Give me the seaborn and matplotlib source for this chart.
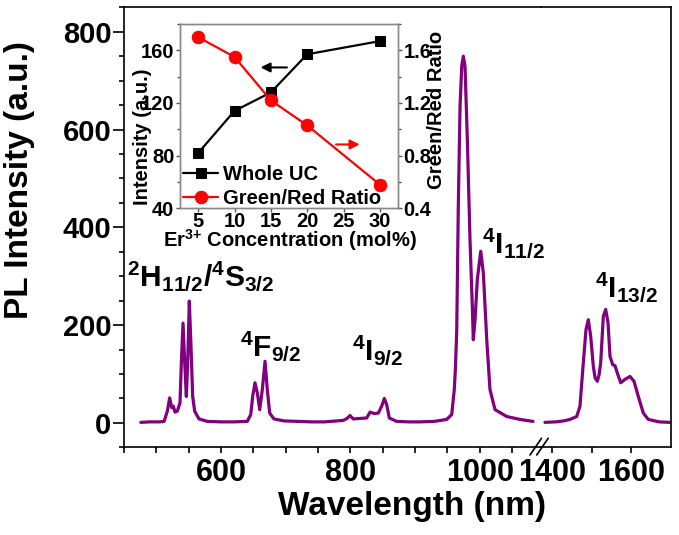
import numpy as np
import pandas as pd
import matplotlib
matplotlib.use('Agg')
import matplotlib.pyplot as plt
import seaborn as sns
from matplotlib.lines import Line2D
from matplotlib.ticker import MultipleLocator, FixedLocator

sns.set_theme(style='ticks')
plt.rcParams['font.family'] = ['Liberation Sans', 'DejaVu Sans']
plt.rcParams['font.weight'] = 'bold'
plt.rcParams['mathtext.fontset'] = 'custom'
plt.rcParams['mathtext.rm'] = 'Liberation Sans:bold'
plt.rcParams['mathtext.it'] = 'Liberation Sans:bold'
plt.rcParams['mathtext.bf'] = 'Liberation Sans:bold'
plt.rcParams['mathtext.sf'] = 'Liberation Sans:bold'
for k in ['text.color', 'axes.labelcolor', 'xtick.color', 'ytick.color', 'axes.edgecolor']:
    plt.rcParams[k] = 'black'

# PL spectrum, visible / 980 part (nm, a.u.)
wl_vis = [476, 490, 505, 512, 517, 520.6, 523.8, 526.3, 528.9, 532.5, 536.6, 538.7, 541.3,
          543.9, 546.4, 548.5, 551, 553.6, 556.2, 559.3, 566, 578.8, 600, 620, 640.7, 646,
          649, 652.6, 656.2, 659.9, 663.9, 668.1, 671.6, 675.3, 682, 697.5, 718, 740, 760,
          789, 795, 799.5, 804.6, 815, 825.4, 830.5, 837, 843.3, 848.5, 852.6, 856.3, 860.3,
          871.7, 890, 907.8, 930, 949, 956.8, 960.8, 962.5, 964.6, 967, 969.7, 972.3, 974.8,
          977.4, 981, 985.1, 988.7, 990.2, 992.9, 996.4, 1001.7, 1005.7, 1011, 1016, 1023.8,
          1041.9, 1062.4, 1082.6]
pl_vis = [1, 2, 2, 3, 24, 51, 31, 34, 22, 24, 41, 123, 204,
          123, 54, 123, 249, 157, 54, 24, 8, 3, 2, 2, 3, 17,
          54, 82, 61, 27, 68, 126, 68, 20, 8, 4, 3, 2, 2,
          5, 9, 15, 8, 9, 10, 22, 19, 20, 34, 50, 37, 10,
          3, 2, 2, 3, 7, 17, 68, 110, 190, 443, 647, 729, 750,
          729, 579, 374, 238, 170, 211, 293, 351, 307, 170, 68, 27,
          13, 7, 3]

# PL spectrum, 1.5 um part
wl_nir = [1383, 1410, 1430, 1446, 1462.8, 1471, 1479.4, 1486.2, 1492, 1498, 1504.5, 1509,
          1514.6, 1519, 1523.1, 1529.7, 1535.7, 1541.5, 1546.5, 1553.3, 1559, 1564.8,
          1573.4, 1584.2, 1596.7, 1606.8, 1617.6, 1630.2, 1642.7, 1670, 1697]
pl_nir = [1, 2, 4, 7, 13, 34, 123, 191, 211, 177, 116, 92,
          85, 98, 123, 218, 232, 205, 136, 119, 117, 102,
          82, 89, 95, 85, 54, 20, 7, 2, 1]

# inset
er_conc = [5, 10, 15, 20, 30]
whole_uc = [82, 114, 128, 157, 167]
green_red = [1.70, 1.55, 1.22, 1.03, 0.58]

W, H = 679, 535


def px_box(l, t, r, b):
    return [l / W, 1 - b / H, (r - l) / W, (b - t) / H]


purple = '#800080'
fig = plt.figure(figsize=(W / 100, H / 100), dpi=100)
ax1 = fig.add_axes(px_box(124, 7.3, 541, 447.3))
ax2 = fig.add_axes(px_box(541, 7.3, 670.7, 447.3))
ax2.patch.set_visible(False)

sns.lineplot(x=wl_vis, y=pl_vis, ax=ax1, color=purple, linewidth=2.3, estimator=None, sort=False)
sns.lineplot(x=wl_nir, y=pl_nir, ax=ax2, color=purple, linewidth=2.3, estimator=None, sort=False)

ax1.set_xlim(450, 1094.9)
ax2.set_xlim(1373.1, 1699)
for ax in (ax1, ax2):
    ax.set_ylim(-50, 850)
    for sp in ax.spines.values():
        sp.set_linewidth(1.2)
        sp.set_color('black')
ax1.spines['right'].set_visible(False)
ax2.spines['left'].set_visible(False)

ax1.yaxis.set_major_locator(MultipleLocator(200))
ax1.yaxis.set_minor_locator(MultipleLocator(50))
ax1.xaxis.set_major_locator(FixedLocator([600, 800, 1000]))
ax1.xaxis.set_minor_locator(MultipleLocator(50))
ax2.xaxis.set_major_locator(FixedLocator([1400, 1600]))
ax2.xaxis.set_minor_locator(MultipleLocator(100))
ax2.tick_params(axis='y', which='both', left=False, labelleft=False)
for ax in (ax1, ax2):
    ax.tick_params(axis='x', which='both', direction='out', length=4, width=1.2,
                   labelsize=22, pad=4)
ax1.tick_params(axis='y', which='major', direction='out', length=8, width=1.2, labelsize=21, pad=1)
ax1.tick_params(axis='y', which='minor', direction='out', length=3.5, width=1.2)

ax1.set_ylabel('PL Intensity (a.u.)', fontsize=24, fontweight='bold')
ax1.yaxis.set_label_coords(-0.213, 0.6075)
ax1.set_xlabel('Wavelength (nm)', fontsize=24, fontweight='bold')
ax1.xaxis.set_label_coords(0.69, -0.099)

# axis break marks
for x0 in (530, 536.7):
    fig.add_artist(Line2D([x0 / W, (x0 + 11.5) / W], [1 - 455 / H, 1 - 438.3 / H],
                          transform=fig.transFigure, color='black', lw=1.2))

# transition labels
ax1.text(454, 279, r'$^{2}\mathrm{H}_{11/2}/^{4}\mathrm{S}_{3/2}$', fontsize=21.5, va='baseline')
ax1.text(629, 136, r'$^{4}\mathrm{F}_{9/2}$', fontsize=21.5, va='baseline')
ax1.text(802, 129, r'$^{4}\mathrm{I}_{9/2}$', fontsize=21.5, va='baseline')
ax1.text(1003, 348, r'$^{4}\mathrm{I}_{11/2}$', fontsize=21.5, va='baseline', zorder=10)
ax2.text(1509, 258, r'$^{4}\mathrm{I}_{13/2}$', fontsize=21.5, va='baseline')

# inset
axin = fig.add_axes(px_box(180, 24, 398, 208.3))
axin2 = axin.twinx()
sns.lineplot(x=er_conc, y=whole_uc, ax=axin, color='black', marker='s', markersize=7,
             markeredgecolor='black', linewidth=1.6, estimator=None)
sns.lineplot(x=er_conc, y=green_red, ax=axin2, color='red', marker='o', markersize=9,
             markeredgecolor='red', linewidth=1.6, estimator=None)
axin.set_xlim(2.5, 32.5)
axin.set_ylim(40, 180)
axin2.set_ylim(0.4, 1.8)
axin.xaxis.set_major_locator(MultipleLocator(5))
axin.yaxis.set_major_locator(MultipleLocator(40))
axin.yaxis.set_minor_locator(MultipleLocator(20))
axin2.yaxis.set_major_locator(MultipleLocator(0.4))
axin2.yaxis.set_minor_locator(MultipleLocator(0.2))
for ax in (axin, axin2):
    for sp in ax.spines.values():
        sp.set_color('#888888')
        sp.set_linewidth(1.0)
    ax.tick_params(which='major', direction='out', length=3, width=1, color='#555555',
                   labelsize=14.5, pad=1)
    ax.tick_params(which='minor', direction='out', length=2, width=1, color='#555555')
axin.tick_params(axis='x', pad=0)

axin.set_xlabel(r'Er$^{\text{3+}}$ Concentration (mol%)', fontsize=14.5, fontweight='bold')
axin.xaxis.set_label_coords(0.505, -0.103)
axin.set_ylabel('Intensity (a.u.)', fontsize=14.5, fontweight='bold')
axin.yaxis.set_label_coords(-0.128, 0.387)
axin2.set_ylabel('Green/Red Ratio', fontsize=14.5, fontweight='bold')
axin2.yaxis.set_label_coords(1.132, 0.533)

axin.annotate('', xy=(13.2, 147), xytext=(17.6, 147),
              arrowprops=dict(arrowstyle='-|>', color='black', lw=1.5, mutation_scale=14))
axin2.annotate('', xy=(27.6, 0.885), xytext=(23.6, 0.885),
               arrowprops=dict(arrowstyle='-|>', color='red', lw=1.5, mutation_scale=14))

axin2.legend(handles=[axin.lines[0], axin2.lines[0]], labels=['Whole UC', 'Green/Red Ratio'],
             loc='lower left', bbox_to_anchor=(0.0, -0.015), frameon=False, fontsize=14.5,
             handlelength=1.75, handletextpad=0.25, labelspacing=0.25,
             borderaxespad=0.15, borderpad=0.0)

fig.savefig('out.png', dpi=100)
